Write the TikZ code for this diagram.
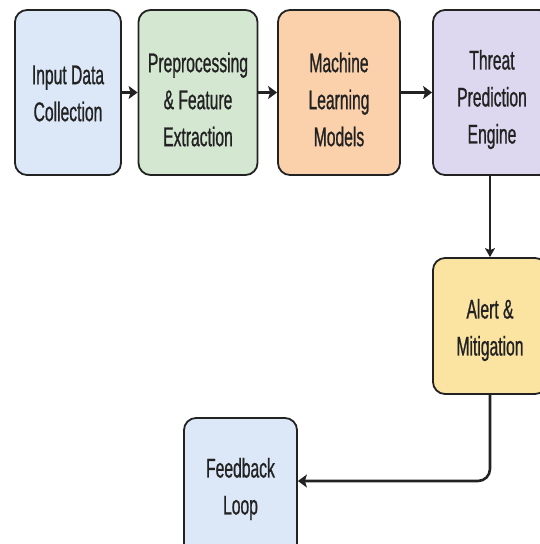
\documentclass[tikz,border=0pt]{standalone}
\usepackage{fontspec}
\setmainfont{Liberation Sans}[FakeStretch=0.58,FakeBold=0.8]
\usetikzlibrary{arrows.meta}
\definecolor{cblue}{HTML}{DCE8F7}
\definecolor{cgreen}{HTML}{D4E7D1}
\definecolor{corange}{HTML}{FBD1AC}
\definecolor{cpurple}{HTML}{DDD8EF}
\definecolor{cyellow}{HTML}{FBE3A2}
\definecolor{cline}{HTML}{222222}
\begin{document}
\begin{tikzpicture}[x=1pt,y=-1pt,
  box/.style={draw=cline, line width=1.8pt, rounded corners=12pt, inner sep=0pt},
  txt/.style={align=center, font=\fontsize{27}{37}\selectfont, text=cline, inner sep=0pt},
  arr/.style={draw=cline, line width=2.6pt, -{Stealth[length=9pt,width=13pt,inset=2pt]}},
  varr/.style={draw=cline, line width=1.4pt, -{Stealth[length=9pt,width=10pt,inset=2pt]}}]
\useasboundingbox (0,0) rectangle (540,544);
\clip (0,0) rectangle (540,544);
\node[box, fill=cblue, minimum width=106pt, minimum height=165pt] (b1) at (68,92.5) {};
\node[box, fill=cgreen, minimum width=119pt, minimum height=165pt] (b2) at (198,92.5) {};
\node[box, fill=corange, minimum width=122pt, minimum height=165pt] (b3) at (339,92.5) {};
\node[box, fill=cpurple, minimum width=118pt, minimum height=165pt] (b4) at (492,92.5) {};
\node[box, fill=cyellow, minimum width=114pt, minimum height=136pt] (b5) at (490,326) {};
\node[box, fill=cblue, minimum width=113pt, minimum height=138pt] (b6) at (240.5,487) {};
\node[txt] (t1) at ([yshift=-1pt]b1.center) {Input Data\\Collection};
\node[txt] (t2) at ([yshift=-7pt]b2.center) {Preprocessing\\\& Feature\\Extraction};
\node[txt] (t3) at ([yshift=-7pt]b3.center) {Machine\\Learning\\Models};
\node[txt] (t4) at ([yshift=-7pt]b4.center) {Threat\\Prediction\\Engine};
\node[txt] (t5) at ([yshift=-4pt]b5.center) {Alert \&\\Mitigation};
\node[txt] (t6) at ([yshift=-2pt]b6.center) {Feedback\\Loop};
\draw[arr] (b1) -- (b2);
\draw[arr] (b2) -- (b3);
\draw[arr] (b3) -- (b4);
\draw[varr] (b5.north |- b4.south) -- (b5.north);
\coordinate (fin) at ([yshift=6pt]b6.east);
\draw[arr, rounded corners=12pt] (b5.south) |- (fin);
\end{tikzpicture}
\end{document}
